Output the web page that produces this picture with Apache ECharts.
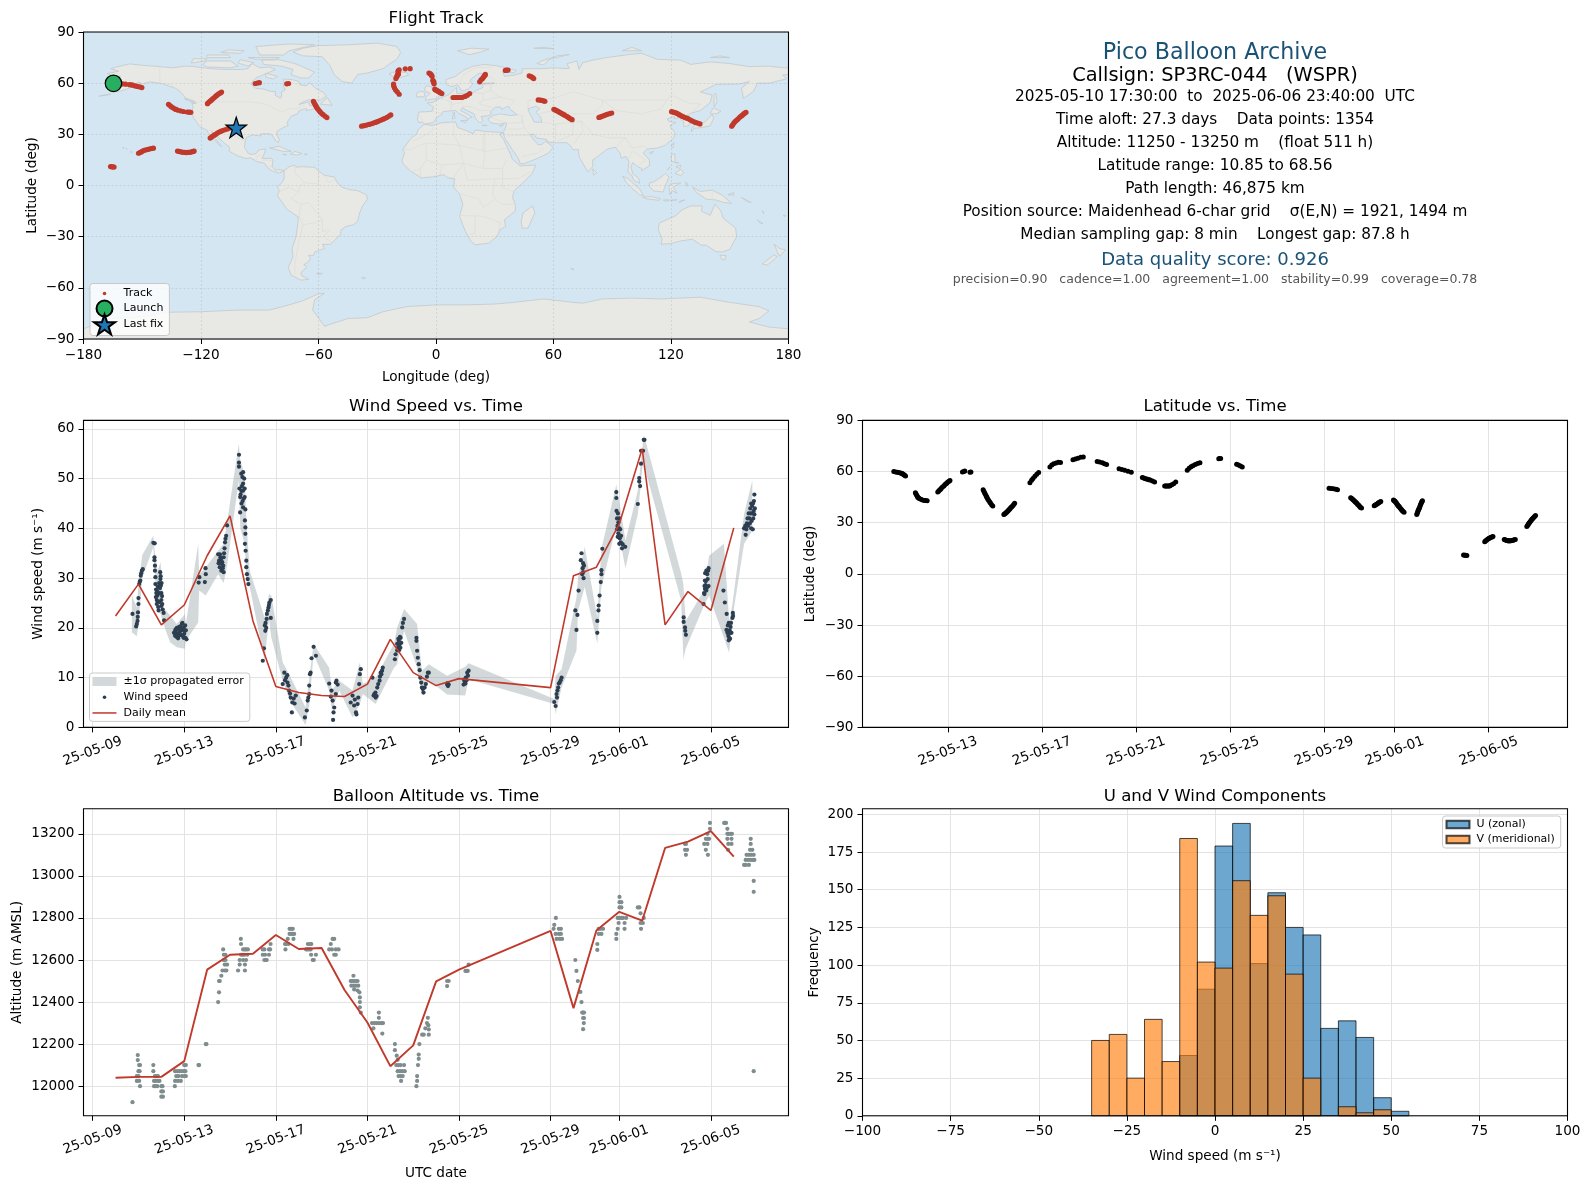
<!DOCTYPE html>
<html><head><meta charset="utf-8"><style>html,body{margin:0;padding:0;background:#fff}#c{width:1590px;height:1189px}</style>
<script src="https://cdn.jsdelivr.net/npm/echarts@6/dist/echarts.min.js"></script></head><body><div id="c"></div>
<script>
// ---------- DATA ----------
const tickDays=[9,13,17,21,25,29,32,36];
const tickLabels=['25-05-09','25-05-13','25-05-17','25-05-21','25-05-25','25-05-29','25-06-01','25-06-05'];
const latTickDays=[13,17,21,25,29,32,36];
const infoLines=[
['Pico Balloon Archive',22.2,'#1a5276',53],
['Callsign: SP3RC-044   (WSPR)',19.4,'#000',76],
['2025-05-10 17:30:00  to  2025-06-06 23:40:00  UTC',15.3,'#000',97.2],
['Time aloft: 27.3 days    Data points: 1354',15.3,'#000',120.2],
['Altitude: 11250 - 13250 m    (float 511 h)',15.3,'#000',143.2],
['Latitude range: 10.85 to 68.56',15.3,'#000',166.2],
['Path length: 46,875 km',15.3,'#000',189.2],
['Position source: Maidenhead 6-char grid    σ(E,N) = 1921, 1494 m',15.3,'#000',212.2],
['Median sampling gap: 8 min    Longest gap: 87.8 h',15.3,'#000',235.2],
['Data quality score: 0.926',18,'#1a5276',260.2],
['precision=0.90   cadence=1.00   agreement=1.00   stability=0.99   coverage=0.78',12.5,'#555',279.5]];
// day of May (June 1 = 32), lon, lat
const trackFixes=[
[10.70,-164.7,60.0],[10.78,-162,59.8],[10.85,-160,59.6],[10.91,-158.5,59.4],[10.98,-156.5,59.1],[11.02,-155.6,59],[11.06,-154.8,58.8],[11.1,-153.6,58.4],[11.13,-152.5,58.1],[11.16,-151.3,57.8],[11.2,-150.2,57.4],
[11.62,-136.6,47.6],[11.64,-136,47],[11.67,-135.2,46.2],[11.7,-134.3,45.6],[11.72,-133.5,45],[11.75,-132.8,44.6],[11.78,-132,44.2],[11.85,-130.5,43.8],[11.92,-129,43.4],[12,-127,43.1],[12.05,-126,43],[12.12,-125.2,42.9],
[12.57,-116.7,48],[12.61,-116.2,48.6],[12.65,-115.6,49.2],[12.69,-115.1,49.7],[12.72,-114.6,50.2],[12.77,-113.9,50.9],[12.83,-113.2,51.6],[12.87,-112.6,52.2],[12.92,-112,52.8],[12.96,-111.4,53.3],[13,-110.8,53.9],[13.05,-110.1,54.3],[13.09,-109.5,54.8],
[13.62,-92.3,59.8],[13.68,-91.2,60.1],[13.72,-90.2,60.3],[13.94,-76.2,59.6],[13.98,-75.3,59.8],
[14.5,-62.6,49.4],[14.53,-62.2,48.5],[14.56,-61.8,47.6],[14.59,-61.4,46.8],[14.62,-61,46],[14.645,-60.6,45.3],[14.67,-60.2,44.7],[14.7,-59.6,43.8],[14.74,-59,43],[14.78,-58.3,42.2],[14.81,-57.6,41.5],[14.86,-56.6,40.6],[14.91,-55.7,39.8],
[15.38,-38,34.8],[15.41,-36.8,35.1],[15.44,-35.5,35.4],[15.47,-34.2,35.8],[15.5,-33,36.2],[15.53,-32,36.6],[15.56,-31,37],[15.59,-30,37.4],[15.62,-29,37.9],[15.65,-28,38.4],[15.68,-27,38.9],[15.72,-26,39.4],[15.76,-25,40],[15.8,-24,40.7],[15.84,-23.1,41.4],
[16.49,-18.8,53.5],[16.56,-19.8,54.9],[16.62,-20.6,56],[16.7,-21.2,57.2],[16.78,-21.6,58.4],[16.86,-21.7,59.4],
[17.34,-20.5,62.7],[17.42,-20,63.8],[17.5,-19.8,64.6],[17.6,-19.5,65],[17.7,-19.2,65.4],[17.79,-19.4,65.3],
[18.32,-19.4,67],[18.42,-19.2,67.3],[18.53,-18.8,67.8],[18.65,-15.7,68.4],[18.76,-13.2,68.5],
[19.35,-3.6,65.9],[19.45,-3,65.6],[19.57,-2.6,65.2],[19.66,-2.3,64.6],[19.75,-2,64.1],
[20.28,-1.6,61.6],[20.4,-1.4,61.2],[20.52,-1.2,60.8],[20.66,-1.1,60.2],[20.8,-1,59.6],
[21.27,-0.6,56.5],[21.33,-0.3,56.2],[21.38,0,56],[21.44,0.4,55.7],[21.5,0.8,55.5],[21.55,1.2,55.2],[21.6,1.5,55],[21.7,2.2,54.4],[21.79,3,53.9],
[22.22,8.7,51.6],[22.26,9.6,51.6],[22.3,10.4,51.6],[22.34,11.2,51.6],[22.38,12,51.6],[22.42,12.8,51.6],[22.45,13.5,51.7],[22.52,14.8,52.2],[22.6,16,52.9],[22.69,17.2,53.9],
[23.18,22.3,60.8],[23.26,23,62],[23.34,23.8,62.8],[23.42,24.2,63.4],[23.52,24.6,64.2],[23.62,25,64.7],[23.72,25.2,65.1],
[24.52,35.4,67.5],[24.56,36,67.6],[24.6,36.8,67.7],
[25.28,47.6,64.3],[25.36,48.6,63.8],[25.44,49.4,63.2],[25.52,49.9,62.7],
[29.21,52.2,50.2],[29.3,53.2,50.1],[29.4,54,49.9],[29.5,55,49.6],[29.57,55.6,49.4],
[30.13,60.2,44.7],[30.16,60.9,44.3],[30.2,61.6,43.9],[30.23,62.3,43.5],[30.27,63,43],[30.3,63.6,42.6],[30.33,64.2,42.2],[30.36,64.9,41.8],[30.39,65.5,41.4],[30.42,66.2,40.9],[30.46,67,40.4],[30.49,67.6,39.9],[30.52,68.2,39.4],[30.55,68.9,39],[30.59,69.5,38.6],
[31.13,83.2,39.9],[31.16,84,40.2],[31.2,84.8,40.6],[31.23,85.5,40.9],[31.27,86.2,41.2],[31.3,87,41.6],[31.34,87.8,41.9],[31.37,88.8,42.2],[31.41,89.7,42.5],
[31.95,120.3,43.3],[31.97,121.2,43],[32,122,42.8],[32.02,122.8,42.4],[32.05,123.5,42],[32.07,124.2,41.5],[32.1,125,41],[32.12,125.9,40.5],[32.15,126.8,40],[32.17,127.6,39.7],[32.2,128.5,39.3],[32.23,129.5,38.7],[32.27,130.5,38],[32.3,131.5,37.5],[32.33,132.5,37],[32.36,133.6,36.6],[32.4,134.8,36.1],
[32.94,151,34.8],[32.96,151.5,35.6],[32.98,152,36.5],[33,152.5,37.2],[33.02,153,37.8],[33.04,153.6,38.4],[33.06,154.2,39],[33.08,154.9,39.8],[33.1,155.6,40.5],[33.12,156.3,41.1],[33.14,157,41.8],[33.16,157.6,42.4],[33.18,158.3,42.9],
[34.93,-166.2,11.1],[34.98,-165.5,11.0],[35.02,-165,10.9],[35.07,-164.4,10.85],
[35.83,-151.9,18.9],[35.86,-151.2,19.3],[35.9,-150.5,19.7],[35.94,-149.8,20.2],[35.98,-149,20.6],[36.02,-148,20.9],[36.06,-147,21.2],[36.1,-146,21.5],[36.14,-145.2,21.7],[36.18,-144.3,21.9],
[36.66,-132,20.2],[36.7,-131.2,20],[36.74,-130.5,19.8],[36.77,-129.8,19.6],[36.8,-129,19.5],[36.83,-128.2,19.4],[36.87,-127.5,19.3],[36.91,-126.6,19.4],[36.95,-125.8,19.5],[37,-125.2,19.6],[37.04,-124.5,19.8],[37.08,-124,20],[37.13,-123.5,20.2],
[37.62,-115.3,27.8],[37.65,-114.6,28.4],[37.68,-114,29],[37.7,-113.2,29.5],[37.73,-112.5,30],[37.76,-111.8,30.6],[37.79,-111,31.2],[37.82,-110,31.7],[37.85,-109,32.2],[37.88,-107.8,32.7],[37.92,-106.5,33.2],[37.95,-105,33.7],[37.99,-103.4,34.2]];
const launchFix=[-164.7,59.9];
const lastFix=[-102,34];
const meanDays=[10,11,12,13,14,15,16,17,18,19,20,21,22,23,24,25,29,30,31,32,33,34,35,36,37];
const windMean=[22.4,28.8,20.6,24.6,34.5,42.5,21.4,8.2,7.0,6.4,6.2,8.7,17.7,11.0,8.4,9.8,8.0,30.5,32.2,40.9,56,20.6,27.3,23.5,40.1];
const altMean=[12040,12044,12044,12119,12554,12625,12630,12719,12652,12657,12457,12303,12095,12194,12498,12554,12738,12371,12740,12829,12787,13133,13163,13213,13092];
// day, lower, upper
const windBand=[[10.71,19.1,26.5],[10.93,18.3,24.1],[11,20.8,28.8],[11.17,30.2,34.7],[11.65,36.2,38.5],[11.71,31.5,35.5],[11.83,23.5,31.5],[11.97,22.8,33.2],[12.09,20.8,24.1],[12.38,17.1,22.5],[12.67,16.1,20.8],[13.03,15.8,22.8],[13.07,17.4,20.8],[13.61,21.1,36.9],[13.65,27.5,30.8],[13.94,26.5,32.2],[14.48,30.8,35.5],[14.72,29,36.9],[14.87,32.5,41.2],[15.38,49.6,57],[15.45,39.9,53.6],[15.64,36.9,50.9],[15.71,30.2,41.6],[15.86,28.2,31.5],[16.51,13.4,22.1],[16.7,21.8,26.8],[16.8,18.1,26.5],[17.3,9.4,13.1],[17.6,5.5,10.5],[18.3,0.5,4],[18.46,4.7,10],[18.65,14.7,16.8],[19.33,7.4,12],[19.45,3.5,7.5],[19.77,7.4,9.4],[20.35,2,7.4],[20.67,4.7,13.1],[20.8,6.7,8.7],[21.36,4.7,10],[22.16,12,16.8],[22.3,12.7,20.1],[22.6,19.4,23.8],[23.17,12,20.8],[23.38,6.4,11.4],[23.68,9.5,12.7],[24.48,6.6,10.4],[25.27,6.4,12.2],[25.42,9.7,12.9],[29.16,4.7,5.7],[29.22,2.7,10.4],[29.48,8,11.7],[30.13,15.4,26.1],[30.2,23.5,30.2],[30.49,28.2,36.3],[31.04,16.8,22.1],[31.22,28.2,35.9],[31.87,40.6,48.8],[32.09,36.2,42.9],[32.27,32,37.5],[32.81,42.9,47.6],[33.07,55,58.8],[33.12,52,58],[34.7,25.5,31],[34.8,13.7,28.8],[34.9,15.8,21.4],[35.7,24.5,27.5],[35.92,26.5,34.5],[36.57,18,36.9],[36.8,15,21.4],[36.94,22,24.8],[37.45,36.9,42.9],[37.81,39.5,49.6]];
const windPts=[[10.74,22.8],[10.9,20.3],[10.93,20.8],[10.96,21.4],[10.97,22.2],[10.98,23.1],[11,24.8],[11,26],[11.03,28.8],[11.06,29.3],[11.08,29.5],[11.1,30.5],[11.12,31],[11.15,31.5],[11.19,31.8],
[11.65,37.1],[11.71,37],[11.7,34.2],[11.7,33.6],[11.72,32.5],[11.72,31.5],[11.74,30.2],[11.74,28.8],[11.77,27.7],[11.78,27],[11.8,25.6],[11.8,24.8],[11.83,26.5],[11.84,25.3],[11.86,24.2],[11.88,23.5],[11.9,27],[11.92,25.2],[11.94,28],[11.95,31.2],[11.96,29.8],[11.97,30.4],[11.98,28.5],[12,27],[12.01,29],[12,25.6],[12,24.4],[12.03,26.4],[12.04,24.8],[12.06,23.7],[12.1,23],[12.12,21.5],[11.85,28.3],[11.9,29],[11.76,26.2],[11.82,27.4],
[12.55,19],[12.6,18.4],[12.62,19.7],[12.66,18.2],[12.7,18.9],[12.72,19.8],[12.75,18.3],[12.8,19.2],[12.83,20.3],[12.85,18.6],[12.88,19.5],[12.9,20.8],[12.93,18.4],[12.95,19.7],[12.98,20],[13,18.8],[13.02,19.4],[13.05,18],[13.07,19.5],[13.1,17.7],[12.68,20],[12.78,20.2],[12.6,19.3],[12.73,17.9],[12.92,21],[12.85,20],[13.04,20.5],[12.97,18],
[13.63,29.1],[13.66,30.2],[13.9,29.2],[13.94,30.8],[13.93,32],
[14.48,34.8],[14.52,33.5],[14.55,32.2],[14.62,31.5],[14.7,32.5],[14.72,34.2],[14.76,36],[14.8,37.9],[14.83,38.5],[14.87,40.6],[14.72,31.2],[14.58,34.2],[14.66,33.2],[14.5,33],[14.6,33.8],[14.68,32],[14.74,35],[14.56,34.8],[14.62,33],[14.78,37.2],
[15.39,54.8],[15.39,53.2],[15.39,52.4],[15.49,51],[15.57,51.3],[15.54,50.3],[15.41,48],[15.57,47.6],[15.64,48],[15.44,46.3],[15.64,46.3],[15.5,45],[15.57,44.2],[15.44,43.2],[15.67,43.8],[15.65,41.6],[15.67,40.2],[15.67,38.9],[15.65,36.9],[15.68,35.5],[15.71,33.5],[15.71,32.2],[15.74,30.8],[15.77,29.8],[15.8,28.8],[15.46,46.8],[15.52,48.5],[15.6,46],[15.62,50],[15.5,47.5],[15.57,49],[15.55,45.5],
[16.43,13.4],[16.48,15.9],[16.54,19.4],[16.55,21],[16.61,22.8],[16.68,24.1],[16.72,25.1],[16.78,25.6],[16.78,22],[16.52,20.5],[16.58,20],[16.65,23.5],[16.7,24.6],[16.6,21.8],
[17.3,8.7],[17.37,11],[17.45,10],[17.51,9],[17.58,7.4],[17.65,6],[17.72,5],[17.7,3],[17.87,6.4],[17.4,9.5],[17.5,10.5],[17.55,8.4],[17.62,6.8],[17.78,5.8],[17.82,4.8],
[18.27,2],[18.35,3.4],[18.39,5.4],[18.46,6.7],[18.46,8.4],[18.49,10.7],[18.56,13.9],[18.65,16.2],[18.75,14.4],[18.42,6],[18.52,11],
[19.33,8.8],[19.43,7.4],[19.48,5.4],[19.55,4],[19.5,1.5],[19.62,9],[19.7,8.6],[19.62,6.7],[19.65,9.4],[19.4,6.2],[19.52,3],
[20.27,5],[20.35,6.4],[20.42,4.4],[20.5,3],[20.57,4.7],[20.64,8.7],[20.67,10.7],[20.71,11.7],[20.45,5.6],[20.52,2.6],[20.6,6],
[21.22,10],[21.3,6.7],[21.36,6],[21.43,8],[21.53,9.4],[21.61,10.7],[21.67,12],[21.35,7],[21.4,6.3],[21.47,8.7],[21.58,11],[21.64,11.4],[21.27,6.4],[21.55,10.2],
[22.2,13.7],[22.3,16.8],[22.37,17.4],[22.45,18],[22.52,20.1],[22.6,21.8],[22.23,14.7],[22.33,16],[22.4,16.6],[22.42,18.2],[22.35,17.8],[22.48,17],[22.38,15.5],[22.44,16],[22.3,15.5],[22.55,21],
[23.14,18],[23.17,15.4],[23.24,12.7],[23.31,10],[23.38,8],[23.45,7],[23.55,8.7],[23.64,11],[23.14,17.4],[23.2,14],[23.28,11.5],[23.35,9],[23.42,7.7],[23.5,8],[23.6,10.2],[23.68,11],
[24.48,8.6],[24.52,8.3],[24.55,8.6],[24.5,8.9],
[25.2,8.6],[25.25,9.2],[25.3,10],[25.36,11],[25.42,11.4],[25.22,9.6],[25.28,8.8],[25.33,9.5],[25.39,10.4],
[29.16,5.1],[29.22,4.3],[29.26,6.7],[29.33,8],[29.4,9],[29.48,10],[29.3,7.4],[29.36,8.8],[29.44,9.5],[29.28,6],
[30.08,23.5],[30.17,22.6],[30.13,19.6],[30.22,27.5],[30.32,33.6],[30.35,35],[30.42,33],[30.42,31.2],[30.4,32],[30.46,32.5],[30.38,30.8],[30.44,30],
[31.04,19],[31.04,21.4],[31.09,23.5],[31.1,24.5],[31.14,26.5],[31.19,29.2],[31.22,30.8],[31.22,31.6],[31.26,35.9],
[31.87,47.3],[31.87,46.1],[31.88,43.5],[31.9,42],[31.92,40.5],[31.94,43],[31.96,41.2],[31.96,39],[31.98,38.2],[32,40],[32,42],[32.02,38],[32.04,39.8],[32.06,37.2],[32.08,38.5],[32.1,37],[32.12,36],[32.15,36.8],[32.26,36.3],[31.9,39.8],[31.93,38.3],[32,36.9],
[32.81,44.9],[32.87,50.1],[32.87,49.4],[32.91,48.5],[32.95,53],[32.95,55.6],[33.04,55.6],[33.07,57.8],[33.1,57.8],
[34.81,22.1],[34.81,21.2],[34.87,20.1],[34.88,19.4],[34.91,18.6],
[35.68,24.8],[35.7,27],[35.72,26.8],[35.74,27.8],[35.76,28.6],[35.78,29.4],[35.8,27.5],[35.82,28],[35.74,29.5],[35.75,31],[35.8,31.5],[35.84,30.8],[35.88,31.5],[35.9,32],[35.72,28.4],[35.9,28.4],[35.86,29.8],
[36.55,27.5],[36.61,25.1],[36.69,22.8],[36.68,19.6],[36.72,19],[36.74,20.5],[36.76,18.4],[36.78,21],[36.8,18],[36.82,19.5],[36.84,17.8],[36.86,20.2],[36.88,21],[36.9,19],[36.94,22],[36.96,23],[36.97,22.4],[36.78,17.5],[36.84,19],
[37.52,38.7],[37.45,40],[37.5,40.5],[37.55,39.8],[37.57,41],[37.6,42],[37.62,40.5],[37.65,43],[37.68,42],[37.7,41],[37.72,44],[37.74,43],[37.76,45],[37.78,41.5],[37.8,44.5],[37.82,43],[37.85,42],[37.87,43.5],[37.9,46.8],[37.88,45.5],[37.84,45],[37.83,39.8],[37.76,40],[37.9,42.8],[37.92,44]];
const altPts=[[10.74,11924],
[10.97,12148],[10.97,12124],[11.03,12100],[11.07,12100],[11,12071],[11.05,12071],[10.93,12048],[11,12048],[10.93,12025],[11.03,12025],[11.07,12000],
[11.65,12100],[11.65,12071],[11.72,12048],[11.78,12048],[11.85,12048],[11.68,12025],[11.75,12025],[11.85,12025],[11.68,12000],[11.75,12000],[11.82,12000],[11.92,12025],[12,12000],[12.05,12000],[12,11975],[12.07,11975],[12,11950],[12.07,11950],
[13,12100],[13.07,12100],[12.6,12071],[12.7,12071],[12.8,12071],[12.9,12071],[13,12071],[13.05,12071],[12.65,12048],[12.75,12048],[12.9,12048],[13,12048],[13.07,12048],[12.6,12025],[12.72,12025],[12.85,12025],[12.59,12000],[13.65,12100],[13.62,12100],[13.94,12200],[13.97,12200],
[14.48,12400],[14.52,12446],[14.55,12500],[14.62,12525],[14.52,12500],[14.67,12550],[14.84,12550],[14.77,12578],[14.87,12578],[14.72,12600],[14.8,12625],[14.7,12650],[14.73,12625],[14.78,12550],[14.8,12600],
[15.35,12550],[15.65,12550],[15.42,12578],[15.65,12578],[15.42,12600],[15.57,12600],[15.7,12600],[15.48,12625],[15.55,12625],[15.57,12650],[15.7,12650],[15.78,12650],[15.48,12676],[15.47,12700],[15.62,12625],[15.65,12650],[15.75,12625],
[16.43,12650],[16.5,12650],[16.7,12650],[16.75,12650],[16.43,12625],[16.53,12625],[16.7,12625],[16.5,12600],[16.6,12600],[16.77,12676],[16.56,12600],
[17.4,12676],[17.42,12650],[17.52,12700],[17.6,12724],[17.67,12724],[17.74,12724],[17.8,12724],[17.6,12748],[17.67,12748],[17.74,12748],[17.77,12700],[17.55,12676],[17.45,12676],
[18.32,12650],[18.38,12650],[18.45,12650],[18.52,12650],[18.4,12676],[18.5,12676],[18.55,12676],[18.54,12625],[18.75,12625],[18.61,12600],[18.66,12600],
[19.4,12676],[19.48,12700],[19.55,12700],[19.33,12650],[19.45,12650],[19.62,12650],[19.74,12650],[19.55,12625],[19.62,12625],
[20.39,12525],[20.27,12500],[20.35,12500],[20.42,12500],[20.5,12500],[20.57,12500],[20.3,12478],[20.4,12478],[20.5,12478],[20.6,12478],[20.42,12460],[20.57,12455],[20.65,12446],[20.67,12422],[20.67,12400],[20.67,12375],[20.71,12350],
[21.2,12300],[21.3,12300],[21.4,12300],[21.5,12300],[21.6,12300],[21.68,12300],[21.5,12325],[21.5,12350],[21.65,12250],[21.26,12275],
[22.2,12200],[22.2,12171],[22.28,12145],[22.32,12125],[22.26,12100],[22.35,12100],[22.45,12100],[22.6,12100],[22.32,12071],[22.42,12071],[22.52,12071],[22.63,12071],[22.36,12048],[22.45,12048],[22.54,12048],[22.47,12025],
[23.14,12000],[23.17,12025],[23.17,12048],[23.21,12100],[23.24,12130],[23.24,12150],[23.27,12200],[23.39,12245],[23.46,12245],[23.53,12275],[23.6,12300],[23.64,12325],[23.68,12245],[23.68,12270],[23.66,12290],
[24.48,12500],[24.55,12500],[24.48,12476],
[25.28,12548],[25.33,12548],[25.38,12548],[25.42,12578],
[29.23,12800],[29.16,12767],[29.13,12748],[29.36,12748],[29.45,12748],[29.36,12724],[29.45,12724],[29.22,12724],[29.26,12700],[29.4,12700],[29.5,12700],
[30.08,12600],[30.13,12548],[30.19,12500],[30.3,12448],[30.35,12400],[30.42,12350],[30.46,12350],[30.42,12324],[30.46,12324],[30.45,12300],[30.42,12271],[30.38,12350],
[31.04,12676],[31.04,12648],[31.1,12748],[31.17,12748],[31.29,12748],[31.1,12724],[31.22,12724],
[31.87,12724],[31.87,12700],[31.93,12748],[31.97,12776],[31.93,12800],[32.01,12800],[32.16,12800],[32.3,12800],[32.01,12850],[32.09,12850],[32.01,12875],[32.09,12875],[32.01,12900],[32.23,12776],[32.23,12748],[32.1,12800],
[32.81,12850],[32.88,12850],[32.93,12822],[32.93,12776],[33.03,12776],[32.95,12748],[33.07,12800],
[34.87,13152],[34.91,13152],[34.87,13124],[34.96,13124],[34.91,13100],
[35.96,13252],[35.96,13224],[35.85,13200],[35.78,13176],[35.85,13176],[35.92,13176],[35.71,13152],[35.85,13152],[35.78,13124],[35.87,13100],
[36.58,13252],[36.62,13252],[36.66,13252],[36.72,13224],[36.72,13200],[36.78,13200],[36.85,13200],[36.92,13200],[36.72,13176],[36.9,13176],[36.76,13152],[36.9,13152],[36.75,13124],
[37.74,13176],[37.74,13152],[37.71,13124],[37.81,13124],[37.56,13100],[37.66,13100],[37.76,13100],[37.87,13100],[37.52,13076],[37.62,13076],[37.72,13076],[37.82,13076],[37.9,13076],[37.45,13052],[37.52,13052],[37.66,13052],
[37.87,12976],[37.87,12924],[37.87,12071]];
const binEdges=[-35,-30,-25,-20,-15,-10,-5,0,5,10,15,20,25,30,35,40,45,50,55];
const uCounts=[0,0,0,0,0,40,84,179,194,101,148,125,120,58,63,52,12,3];
const vCounts=[50,54,25,64,36,184,102,98,156,133,146,94,25,0,6,2,4,0];
const oceanBox=[[-180,-90],[180,-90],[180,90],[-180,90]];
const landPolys=[
// North America
[[-168,65.6],[-164,66.5],[-162,67],[-166,68.5],[-163,69.5],[-156.5,71.3],[-150,70.5],[-141,69.7],[-135,69],[-128,70],[-124,69.8],[-115,68.5],[-108,68],[-100,68],[-96,68.5],[-94,71.5],[-90,69],[-85,69.5],[-82,68],[-87,65.5],[-92,63],[-94.5,60],[-94,58.7],[-92,57],[-88,56.5],[-85,55.3],[-82,55],[-82,52.8],[-79.5,51.2],[-78.8,52.5],[-79,54.8],[-77,56],[-78,58.5],[-77.5,60.5],[-78,62.4],[-73,62],[-70,61],[-69.5,59],[-66,58.5],[-64.5,60.3],[-61.5,57],[-58,54.8],[-55.8,52.5],[-59,50.2],[-65,50.2],[-68,49],[-70,47.5],[-65,49],[-64.5,47],[-61,46],[-60,45.7],[-64,44.4],[-66,43.8],[-66,45],[-67,45],[-70,43.7],[-70.7,42],[-74,40.6],[-75.5,38],[-76,36.8],[-75.5,35.3],[-78,33.9],[-81,32],[-81.4,30],[-80,26.8],[-80.5,25.2],[-81.8,26],[-82.8,28],[-84,30],[-86,30.4],[-89.5,30.2],[-89.5,29],[-91,29.3],[-94,29.6],[-97,28],[-97.5,25],[-97.8,22.4],[-96,19],[-94.5,18.2],[-92,18.6],[-90.5,20.8],[-87,21.5],[-87.8,18.3],[-88.8,15.9],[-84,15.9],[-83.3,14.9],[-83.7,11],[-82,9],[-80,9.2],[-77.5,8.7],[-78.2,8.2],[-80,7.3],[-83,8.2],[-85.7,10],[-87.5,13],[-91.5,14],[-94.5,16.2],[-97,15.8],[-101.5,17.5],[-105.5,20],[-105.5,22.5],[-108.5,25.2],[-110.5,27.5],[-112.5,30],[-114.7,31.7],[-114,29.5],[-111,25],[-109.5,23],[-110,23],[-112,25.5],[-114.5,28],[-116,30.5],[-117.2,32.6],[-120.5,34.5],[-122.5,37.5],[-124,40],[-124.5,43],[-124,46.5],[-124.7,48.3],[-122.5,48],[-123,49.3],[-127.5,51],[-130,54.3],[-133,57],[-136.5,58.3],[-140,59.7],[-146,60.8],[-150,59.5],[-152,60.8],[-154,58.5],[-158,56.5],[-163,54.8],[-160,58.7],[-162,60],[-165.5,61.5],[-165,63.3],[-161,64],[-165,64.5]],
// Greenland and Arctic Canada
[[-73,78.2],[-68,80.5],[-60,82],[-45,82.5],[-30,83.5],[-20,81.5],[-18,78],[-20,74],[-24,71],[-27,68.5],[-35,66],[-40,65],[-43,60],[-48,61],[-52,65],[-54,70],[-58,75.5],[-68,76]],
[[-80,73.7],[-72,71.5],[-67,69],[-62,66.5],[-65,63],[-69,63],[-74,65],[-73,68],[-79,70],[-88,71],[-89,73.5]],
[[-117,69.5],[-105,69],[-101,70],[-105,73],[-117,73],[-119,71]],
[[-90,76.5],[-78,76.5],[-75,79],[-62,82.5],[-75,83],[-92,81.5]],
[[-125,71.8],[-118,73],[-117,74.3],[-124,74.3]],[[-96,75],[-80,75],[-82,74],[-92,74]],[[-117,75],[-105,75],[-106,76.5],[-117,76.5]],[[-100,73.8],[-93,72],[-96,70],[-101,71.8]],[[-87,65.8],[-81,64],[-83,62.5],[-87,63.5]],[[-110,78],[-100,77.5],[-98,79],[-106,79.5]],
[[-59,47.7],[-55.5,51.5],[-53,47]],[[-128.5,50.8],[-124,48.5],[-123.5,48.4],[-126,50.4]],[[-85,22],[-80,23],[-74,20],[-78,20]],[[-74.5,18.5],[-72,20],[-68.5,18.7],[-71,17.8]],[[-78.3,18.3],[-76.3,18.2],[-77,17.8]],[[-67.2,18.5],[-65.7,18.4],[-66.8,17.9]],
[[-156,20],[-155,19.6],[-155.7,19]],[[-158.3,21.6],[-157.7,21.4],[-158,21.2]],[[-160,22.1],[-159.3,22.2],[-159.5,21.8]],[[-172,52.4],[-166,53.7],[-167,53.2]],
// South America
[[-77.5,8.7],[-75,11],[-72,12],[-71.5,10.8],[-68,11],[-62,10.7],[-60,8.5],[-57,6],[-52,5],[-50,1],[-48,-1],[-44,-2.5],[-40,-3],[-35.5,-5.5],[-35,-8],[-37.5,-12],[-39,-16],[-40,-21],[-42,-23],[-46,-24],[-48.5,-26],[-48.7,-28.5],[-52,-32.5],[-54,-34.5],[-58,-34.5],[-57,-37],[-62,-39],[-62.5,-41],[-65,-41],[-64,-42.7],[-65.5,-45],[-67.5,-46.5],[-66,-48],[-69,-51],[-68.5,-53],[-65,-55],[-69,-55.5],[-74,-52.5],[-75.5,-48],[-73,-42],[-73.5,-37],[-71.5,-30],[-70.5,-22],[-70.3,-18.5],[-76,-14],[-81,-6],[-80,-3],[-81,-1],[-78.5,2],[-77.5,4],[-77.5,7]],
[[-61,-51.5],[-58,-51.5],[-59,-52.3]],[[-38,-54],[-36,-54.2],[-37,-54.6]],
// Africa
[[-6,35.8],[-2,35.2],[3,36.8],[10,37.3],[11,34],[15,32.4],[19,30.3],[20,32.6],[25,31.7],[32,31.2],[34.3,31],[32.5,30],[34.5,27],[37,21],[39,15.5],[43,11.5],[51,12],[49,7],[44,1],[40,-3],[39,-7],[40.5,-11],[40.5,-15],[35,-20],[35.5,-24],[32.7,-26],[31,-30],[27,-33.8],[20,-34.8],[18,-33],[15,-27],[12,-18],[13.7,-11],[12,-5],[9,-1],[9.5,4],[6,4.5],[4,6.3],[-2,5],[-7.5,4.5],[-13,8.5],[-16.7,12.5],[-17.4,14.7],[-16,19],[-17,21],[-13,27.5],[-10,30],[-9,33]],
[[49.3,-12],[50.5,-16],[47,-25],[44,-25],[43.5,-21],[44.5,-16]],
// Eurasia
[[-9,37],[-9.4,39],[-9,43],[-2,43.5],[-1.2,46],[-4.5,48.4],[-1.5,48.7],[1.5,50.8],[4,52],[7,53.5],[8.5,55.5],[10.5,57.5],[10.5,54],[14,54],[19,54.5],[21,56],[24,57.5],[23.5,59.3],[30,60],[24,60],[21.5,61],[22,63],[25.3,65.3],[22,65.8],[18,62.5],[17.3,60.7],[18.8,59.5],[16.5,56.5],[14,55.5],[12.7,56],[11.2,59],[8,58],[5.5,59],[5,62],[10,64],[14,67.5],[19,70],[25,71],[31,70.2],[41,67.5],[40,66],[34,66.7],[35,64],[40,64.7],[44,66],[44,68.5],[54,68.5],[60,69],[68,68.5],[67,71.5],[72,73],[73,68],[75,72],[80,73.5],[87,75],[100,77],[105,77.5],[113,74],[125,73.5],[130,71],[140,72.5],[150,71.5],[160,69.7],[170,70],[178,69],[180,69],[180,65],[177,64.8],[179,62.5],[170,60],[164,60],[163,57],[162,55],[157,51],[156,57],[160,61],[155,59.5],[143,59.3],[135,54.8],[141,53],[140,48.5],[135,44],[130,42.3],[127.5,39.7],[129.5,37],[129,35],[126.5,34.5],[126.5,37.5],[125,38.5],[125,40],[121.5,39],[122,40.7],[118,39],[119,37.5],[122.5,37],[119.5,35],[122,31],[121.5,28],[117,23.5],[113,22],[109,21.5],[108,21.5],[105.8,19],[109,15],[109,11.5],[105,8.7],[105,10],[103,11],[100.5,13.5],[99.5,11],[100.5,7],[103.5,4],[104,1.3],[101,3],[100,6],[98,8],[98.5,14],[97,17],[94.5,16],[94,19],[91.5,22.5],[89,21.8],[87,21],[82,16.5],[80,15],[80,11],[77.5,8],[76,11],[73,17],[72.7,21],[70,21],[68.5,23.5],[66.5,25.2],[61.5,25],[57,25.5],[56.5,27],[51.5,27.8],[50,30],[48,30],[50,26.5],[51.5,25],[52,24],[54,24],[56,26],[59.8,22.5],[57.5,19],[52,16],[45,12.8],[43,12.8],[42,16],[39,21],[35,28],[34.7,29.5],[34.5,31.3],[35.8,35],[36,36.7],[32,36],[28,36.7],[26.5,39],[29,41],[33,42],[38,41],[41.5,41.5],[38,44.5],[37,46.5],[35,45.5],[33.5,44.5],[33,46],[30.5,46],[28,43.5],[28,41.5],[26,40.8],[23,40.5],[24,38],[22.5,36.5],[20,39.5],[19.5,42],[15,44.5],[13.5,45.7],[12.5,44],[16,41.8],[18.5,40],[16.7,39.5],[16,38],[15.7,40],[12,42],[10,44],[7,43.7],[3.5,43.3],[3,41.8],[0,39.5],[-0.5,38],[-2,36.8],[-5.5,36],[-7,37]],
[[-5.5,50],[1,51],[1.5,53],[-2,56],[-2,57.7],[-5,58.6],[-6,56],[-3,54],[-5,52]],[[-10,52],[-6,52],[-5.5,54.5],[-8,55.3],[-10,54]],[[-24,65.5],[-22,64],[-18,63.4],[-14,64.7],[-15,66.3],[-22,66.4]],
[[11,79],[17,76.7],[22,78],[27,80],[18,80.5]],[[51.5,71.5],[55,70.7],[58,74],[68,76.8],[62,76],[54,73]],[[95,79],[105,79],[100,81]],[[50,80.5],[60,80.2],[55,81]],[[140,75],[150,75],[145,76]],[[142,46],[143.5,49],[143,54],[142,53.5],[142,49]],
[[8.5,39],[9.7,39.5],[9.5,41],[8.3,40.8]],[[12.5,38],[15.5,38.2],[15,36.8]],[[8.6,42.5],[9.5,42.8],[9.2,41.4]],[[23.5,35.4],[26.2,35.2],[24.5,35]],[[32.4,35],[34.5,35.6],[33,34.6]],
[[130.5,31.5],[131.5,33.5],[136,34],[140,35],[141.8,39.5],[141,41.5],[139.8,40],[137,37],[133,35.5],[130.5,33.8]],[[140,42],[141.5,45.5],[145.5,43.5],[143,42]],[[120,23],[121.5,25.2],[121,22]],[[109,19.2],[111,20],[110,18.3]],
[[120,16],[120.5,18.5],[122,18.5],[122,14],[124,13],[120.5,14]],[[122,7],[125,9.5],[126.5,7.5],[125,5.8]],[[118,9],[119.5,11],[119,10]],[[122.5,11],[125,12],[124.5,10]],
[[95.3,5.5],[98,4],[104,-2],[106,-5.8],[104,-5.5],[100,-1.5],[97,2]],[[105.5,-6.8],[110,-6.5],[114.5,-7.7],[114,-8.7],[108,-7.9]],[[109,1.5],[111,2],[115,5],[117,7],[119,5],[117.5,1],[116,-3.8],[111,-3.2],[109,-0.5]],[[119.5,-5.5],[119,-1],[120,1],[125,1.5],[121,-1],[123,-4.5],[120.5,-3]],[[127.5,2],[128.5,1],[128,-0.5]],[[116,-8.5],[119,-8.4],[119,-9],[116.5,-9]],[[120,-8.4],[123,-8.4],[120,-9]],[[124,-10],[127,-8.4],[124.5,-9.3]],
[[131,-1],[135,-3.5],[141,-2.7],[146,-5.5],[151,-10.5],[147,-10],[143,-8.5],[138,-8],[133,-4]],[[149,-5.5],[152,-4.2],[152,-5.6]],[[156,-7],[161,-10],[159,-9.5]],[[166.5,-15],[167.5,-16.5],[167,-15]],[[164,-20.2],[167,-22.4],[165.5,-21.8]],[[177.3,-17.5],[178.6,-17.7],[178,-18.2]],
[[80,9.7],[82,7.5],[80.5,6]],[[68.8,-48.6],[70.5,-49],[69.5,-49.5]],
[[114,-22],[122,-18],[126,-14],[130,-12],[136,-12],[135.5,-15],[140,-17.5],[142.5,-11],[145.5,-15],[146.5,-19],[153,-25],[153.5,-30],[150,-37.5],[146,-39],[143,-38.8],[138,-35],[135.5,-35],[131,-31.5],[125,-32.5],[120,-34],[115,-34.5],[115.5,-31],[113.5,-26]],
[[145,-41],[148,-41],[147.5,-43.5],[146,-43.5]],[[172.7,-34.5],[175.5,-37],[178.5,-37.7],[175.5,-41.5],[174.5,-39.5]],[[172.5,-40.7],[174.2,-41.7],[171,-45],[169,-46.7],[166.5,-46],[170,-43]],
// Antarctica
[[-180,-90],[-180,-84],[-166,-78],[-150,-77],[-136,-74.3],[-120,-74],[-100,-73],[-85,-73],[-75,-70],[-68,-67.5],[-60,-63.5],[-57,-63.3],[-62,-67],[-63,-73],[-61,-76],[-57,-82.5],[-45,-78],[-35,-77.5],[-27,-74],[-15,-71],[0,-70],[15,-70],[30,-69.5],[40,-68.5],[55,-66.5],[70,-68.5],[75,-69],[85,-66.5],[100,-66],[115,-66.5],[135,-65.5],[150,-68.5],[165,-71],[170,-73.5],[165,-78],[160,-80],[170,-83],[180,-84],[180,-90]]];
const waterPolys=[[[47,45],[51,46.5],[53,45],[51,43],[53.5,40],[54,37],[50,37.3],[49,40],[47.5,43]]];
const borderLines=[
[[-123,49],[-95,49],[-88,48],[-83,45.5],[-79,43],[-75,45],[-71,45],[-67,47]],[[-141,69.7],[-141,60],[-135,59],[-130,55]],[[-117,32.5],[-106,31.7],[-103,29],[-97.5,26]],[[-92,14.5],[-91,17.5],[-89,18]],[[-89,15],[-83.5,14.5]],[[-85.5,11],[-83.7,11]],
[[-70,-18.5],[-69,-11],[-74,-7.5],[-70,-4],[-70,-1],[-67,2],[-72,7],[-72,12]],[[-60,8],[-60,1],[-67,1.5]],[[-58,-20],[-58,-27],[-54,-26],[-57.5,-30],[-53,-33.5]],[[-70,-18],[-68,-23],[-70,-33],[-72,-45],[-72,-52]],[[-58,-20],[-61,-16],[-65,-10],[-69,-11]],[[-68,-23],[-62,-22],[-58,-20]],[[-80,-3.5],[-75,-1],[-70,-4]],[[-57,6],[-55,2],[-52,3]],
[[-17,21],[-13,21],[-5,25],[12,23.5],[25,20],[37,22]],[[25,32],[25,20],[24,10],[34,10],[36,15]],[[-5,25],[-5,15],[3,12],[14,13],[24,10]],[[12,23.5],[14,13],[9,4.5]],[[14,13],[16,3],[30,4],[42,4],[48,8]],[[34,10],[34,4],[34,-1],[40,-4]],[[30,4],[29,-5],[30,-8],[34,-11],[40,-11]],[[13,-5],[22,-8],[24,-13],[30,-8]],[[12,-17.5],[24,-18],[33,-22],[32,-26]],[[20,-18],[20,-28],[17,-28.5]],[[-13,8],[-8,10],[-5,15]],[[-8,5],[-8,10]],[[3,12],[2,6]],[[-1,35],[-2,32],[-8,28],[-12,26]],[[9,37],[9,30],[12,23.5]],[[24,31],[24,20]],
[[28,60],[28,56],[32,52],[40,50],[38,47]],[[47,45],[47,50],[60,51],[70,55],[85,50],[98,50],[108,50],[118,50],[120,53],[130,48],[135,48],[131,43]],[[85,50],[92,44],[105,42],[115,45],[118,50]],[[74,38],[80,30],[88,28],[97,28],[100,22],[106,23],[108,21.5]],[[52,42],[60,44],[70,42],[80,42],[85,47],[85,50]],[[44,39],[45,34],[48,30]],[[61,36],[61,25.5]],[[54,37],[61,36],[70,37],[74,38]],[[70,37],[70,30],[62,26]],[[74,38],[75,32],[70,24]],[[26,41],[36,36.5],[44,37],[44,41],[41.5,41.5]],[[36,29],[44,29.5],[48,29]],[[44,17],[52,19],[55,22]],[[36,33],[42,33],[45,34]],
[[-2,43.4],[3,42.5]],[[-9,42],[-7,39],[-7,37]],[[2.5,51],[8,49],[7.5,44]],[[7,53.5],[6.5,50],[8,48]],[[14,54],[15,51],[13,48.5],[8,47.5]],[[24,54],[24,50],[22,48],[29,45.5]],[[13.5,46.5],[19,46],[22,44],[26,44],[28,43.7]],[[19,54.5],[24,54],[28,56],[28,60]],[[24,50],[33,52]],[[12,60],[14,65],[20,69],[29,69.5]],[[24,66],[30,62],[28,60]],[[92,22],[94,25],[97,28]],[[98,15],[100,20]],[[103,11],[107,15],[102,19],[100,20]],[[125,40],[130,42.3]],[[126,38],[129,38.5]],[[141,-2.7],[141,-9]]];
// ---------- HELPERS ----------
const toMs=d=>Date.UTC(2025,4,1)+(d-1)*864e5;
const withMs=a=>a.map(p=>[toMs(p[0])].concat(p.slice(1)));
const fmtMinus=v=>String(v).replace('-','\u2212');
const FONT='DejaVu Sans';
const LEFT1=83.5,LEFT2=862.5,W=705,H=307;
const tops=[32,420.4,808.8];
const ticksMs=tickDays.map(toMs), latTicksMs=latTickDays.map(toMs);
const tickFmt=v=>{const i=ticksMs.findIndex(t=>Math.abs(t-v)<1000);return i>=0?tickLabels[i]:'';};
const grid=(left,top)=>({left,top,width:W,height:H,show:true,borderColor:'#000',borderWidth:1.1,backgroundColor:'transparent',z:5,containLabel:false});
const solidSplit={show:true,lineStyle:{color:'#e3e3e3',width:1}};
const dashSplit={show:true,lineStyle:{color:'rgba(110,110,110,0.2)',width:0.8,type:[2,2]}};
const baseLabel={color:'#000',fontFamily:FONT,fontSize:13.6,margin:9,hideOverlap:false,formatter:fmtMinus};
const yLabel=Object.assign({},baseLabel,{padding:[3,0,0,0]});
const baseTick={show:true,length:5,lineStyle:{color:'#000',width:1},inside:false};
const baseLine={show:false,onZero:false};
const nameStyle={color:'#000',fontFamily:FONT,fontSize:13.6};
function valAxis(idx,extra){return Object.assign({type:'value',gridIndex:idx,axisLine:baseLine,axisTick:baseTick,splitLine:solidSplit,nameLocation:'middle',nameTextStyle:nameStyle,axisLabel:baseLabel},extra);}
function yAxisAt(idx,values,extra){return valAxis(idx,Object.assign({nameRotate:90,axisLabel:Object.assign({},yLabel,values?{customValues:values}:{}),axisTick:Object.assign({},baseTick,values?{customValues:values}:{})},extra));}
function timeAxis(idx,min,max,ticks,extra){return Object.assign({type:'value',gridIndex:idx,min:toMs(min),max:toMs(max),axisLine:baseLine,splitLine:solidSplit,
 axisTick:Object.assign({},baseTick,{customValues:ticks}),minorTick:{show:false},nameLocation:'middle',nameTextStyle:nameStyle,
 axisLabel:Object.assign({},baseLabel,{customValues:ticks,rotate:20,align:'center',verticalAlign:'middle',formatter:tickFmt,margin:24})},extra||{});}
function polyItem(list,fill,stroke,lw){return function(params,api){
  const pts=list[params.dataIndex].map(p=>api.coord(p));
  return {type:'polygon',shape:{points:pts},style:{fill,stroke,lineWidth:lw},silent:true};};}
function indexData(list){return list.map((p,i)=>[p[0][0],p[0][1],i]);}
const STAR='path://M50 0L61.8 35.4H98.8L68.9 57.3L80.3 92.7L50 70.8L19.7 92.7L31.1 57.3L1.2 35.4H38.2Z';
const dotIcon=r=>`path://M0 0M100 100M${50+r} 50A${r} ${r} 0 1 1 ${50-r} 50A${r} ${r} 0 1 1 ${50+r} 50Z`;
const LINE_ICON='path://M0 0M24 9M0 3.8H24V5.3H0Z';
function legendBase(left,top,itemW,itemH,gap,items,pad){return {show:true,orient:'vertical',left,top,itemWidth:itemW,itemHeight:itemH,itemGap:gap,padding:pad||[3,6,3,3],data:items,selectedMode:false,
 backgroundColor:'rgba(255,255,255,0.8)',borderColor:'rgba(190,190,190,0.8)',borderWidth:1,borderRadius:3,z:8,inactiveColor:'#000',align:'left',
 textStyle:{color:'#000',fontFamily:FONT,fontSize:11,padding:[0,0,0,2]}};}
function histItem(counts){return function(params,api){
  const i=params.dataIndex,c=counts[i];
  if(!c) return null;
  const a=api.coord([binEdges[i],0]),b=api.coord([binEdges[i+1],c]);
  return {type:'rect',shape:{x:a[0],y:b[1],width:b[0]-a[0],height:a[1]-b[1]},style:api.style(),silent:true};};}
const histData=c=>c.map((v,i)=>[binEdges[i],v,binEdges[i+1]]);
function titleAt(text,cx,cy,size,color){return {text,left:cx,top:cy-size/2-1,textAlign:'center',padding:0,textStyle:{fontFamily:FONT,fontSize:size,fontWeight:'normal',color,lineHeight:size+2}};}
const titles=[titleAt('Flight Track',LEFT1+W/2,18.5,16.6,'#000'),titleAt('Wind Speed vs. Time',LEFT1+W/2,406.8,16.6,'#000'),titleAt('Latitude vs. Time',LEFT2+W/2,406.8,16.6,'#000'),titleAt('Balloon Altitude vs. Time',LEFT1+W/2,797,16.6,'#000'),titleAt('U and V Wind Components',LEFT2+W/2,797,16.6,'#000')]
 .concat(infoLines.map(l=>titleAt(l[0],LEFT2+W/2,l[3],l[1],l[2])));
const option={animation:false,backgroundColor:'#fff',title:titles,
 grid:[grid(LEFT1,tops[0]),grid(LEFT1,tops[1]),grid(LEFT2,tops[1]),grid(LEFT1,tops[2]),grid(LEFT2,tops[2])],
 legend:[
  legendBase(90,283.5,24,20,-6,[{name:'Track',icon:dotIcon(9)},{name:'Launch',icon:dotIcon(40)},{name:'Last fix',icon:STAR}],[0,6,0,3]),
  legendBase(89.5,673,24,9,4.7,[{name:'±1σ propagated error',icon:'rect'},{name:'Wind speed',icon:dotIcon(20)},{name:'Daily mean',icon:LINE_ICON}]),
  legendBase(1442.5,816,23,7.5,4,[{name:'U (zonal)',icon:'rect'},{name:'V (meridional)',icon:'rect'}])],
 xAxis:[
  valAxis(0,{min:-180,max:180,interval:60,splitLine:dashSplit,name:'Longitude (deg)',nameGap:31,z:1}),
  timeAxis(1,8.6,39.39,ticksMs),
  timeAxis(2,9.37,39.35,latTicksMs),
  timeAxis(3,8.6,39.39,ticksMs,{name:'UTC date',nameGap:51}),
  valAxis(4,{min:-100,max:100,interval:25,name:'Wind speed (m s\u207B\u00B9)',nameGap:34})],
 yAxis:[
  yAxisAt(0,null,{min:-90,max:90,interval:30,splitLine:dashSplit,name:'Latitude (deg)',nameGap:44,z:1}),
  yAxisAt(1,[0,10,20,30,40,50,60],{min:0,max:61.7,name:'Wind speed (m s\u207B\u00B9)',nameGap:38}),
  yAxisAt(2,null,{min:-90,max:90,interval:30,name:'Latitude (deg)',nameGap:45}),
  yAxisAt(3,[12000,12200,12400,12600,12800,13000,13200],{min:11859,max:13319,name:'Altitude (m AMSL)',nameGap:59}),
  yAxisAt(4,[0,25,50,75,100,125,150,175,200],{min:0,max:203.7,name:'Frequency',nameGap:41})],
 series:[
  {name:'Ocean',type:'custom',xAxisIndex:0,yAxisIndex:0,z:0,silent:true,renderItem:polyItem([oceanBox],'#d4e6f1','none',0),data:indexData([oceanBox])},
  {name:'Land',type:'custom',xAxisIndex:0,yAxisIndex:0,z:0,silent:true,renderItem:polyItem(landPolys,'#e8e8e4','#c3c9cd',0.8),data:indexData(landPolys)},
  {name:'Inland water',type:'custom',xAxisIndex:0,yAxisIndex:0,z:0,silent:true,renderItem:polyItem(waterPolys,'#d4e6f1','#c3c9cd',0.8),data:indexData(waterPolys)},
  {name:'Borders',type:'custom',xAxisIndex:0,yAxisIndex:0,z:0,silent:true,renderItem:function(params,api){return {type:'polyline',shape:{points:borderLines[params.dataIndex].map(p=>api.coord(p))},style:{fill:'none',stroke:'#dcdcd8',lineWidth:0.7},silent:true};},data:indexData(borderLines)},
  {name:'Track',type:'scatter',xAxisIndex:0,yAxisIndex:0,z:3,symbolSize:5.2,itemStyle:{color:'#c0392b',opacity:1},data:trackFixes.map(f=>[f[1],f[2]])},
  {name:'Launch',type:'scatter',xAxisIndex:0,yAxisIndex:0,z:4,symbolSize:16.5,itemStyle:{color:'#27ae60',borderColor:'#000',borderWidth:1.2,opacity:1},data:[launchFix]},
  {name:'Last fix',type:'scatter',xAxisIndex:0,yAxisIndex:0,z:4,symbol:STAR,symbolSize:20.5,itemStyle:{color:'#1f77b4',borderColor:'#000',borderWidth:1.2,opacity:1},data:[lastFix]},
  {name:'±1σ propagated error',type:'custom',xAxisIndex:1,yAxisIndex:1,z:1,silent:true,itemStyle:{color:'rgba(149,165,166,0.42)'},
   renderItem:function(params,api){ if(params.dataIndex!==0) return null;
     const up=windBand.map(b=>api.coord([toMs(b[0]),b[2]])),lo=windBand.map(b=>api.coord([toMs(b[0]),b[1]])).reverse();
     return {type:'polygon',shape:{points:up.concat(lo)},style:{fill:'rgba(149,165,166,0.42)',stroke:'none'},silent:true};},
   data:withMs(windBand),encode:{x:0,y:[1,2]}},
  {name:'Wind speed',type:'scatter',xAxisIndex:1,yAxisIndex:1,z:3,symbolSize:4.2,itemStyle:{color:'#2c3e50',opacity:1},data:withMs(windPts)},
  {name:'Daily mean',type:'line',xAxisIndex:1,yAxisIndex:1,z:4,showSymbol:false,symbol:'none',lineStyle:{color:'#c0392b',width:1.6},itemStyle:{color:'#c0392b'},data:meanDays.map((d,i)=>[toMs(d),windMean[i]])},
  {name:'Latitude',type:'scatter',xAxisIndex:2,yAxisIndex:2,z:3,symbolSize:5,itemStyle:{color:'#000',opacity:1},data:trackFixes.map(f=>[toMs(f[0]),f[2]])},
  {name:'Altitude',type:'scatter',xAxisIndex:3,yAxisIndex:3,z:3,symbolSize:4.2,itemStyle:{color:'#7f8c8d',opacity:1},data:withMs(altPts)},
  {name:'Altitude daily mean',type:'line',xAxisIndex:3,yAxisIndex:3,z:4,showSymbol:false,symbol:'none',lineStyle:{color:'#c0392b',width:1.9},data:meanDays.map((d,i)=>[toMs(d),altMean[i]])},
  {name:'U (zonal)',type:'custom',xAxisIndex:4,yAxisIndex:4,z:2,silent:true,itemStyle:{color:'rgba(31,119,180,0.65)',borderColor:'rgba(0,0,0,0.7)',borderWidth:1},renderItem:histItem(uCounts),data:histData(uCounts),encode:{x:0,y:1}},
  {name:'V (meridional)',type:'custom',xAxisIndex:4,yAxisIndex:4,z:3,silent:true,itemStyle:{color:'rgba(255,127,14,0.65)',borderColor:'rgba(0,0,0,0.7)',borderWidth:1},renderItem:histItem(vCounts),data:histData(vCounts),encode:{x:0,y:1}}
 ]};
const chart=echarts.init(document.getElementById('c'),null,{renderer:'canvas',width:1590,height:1189});
chart.setOption(option);
</script></body></html>
